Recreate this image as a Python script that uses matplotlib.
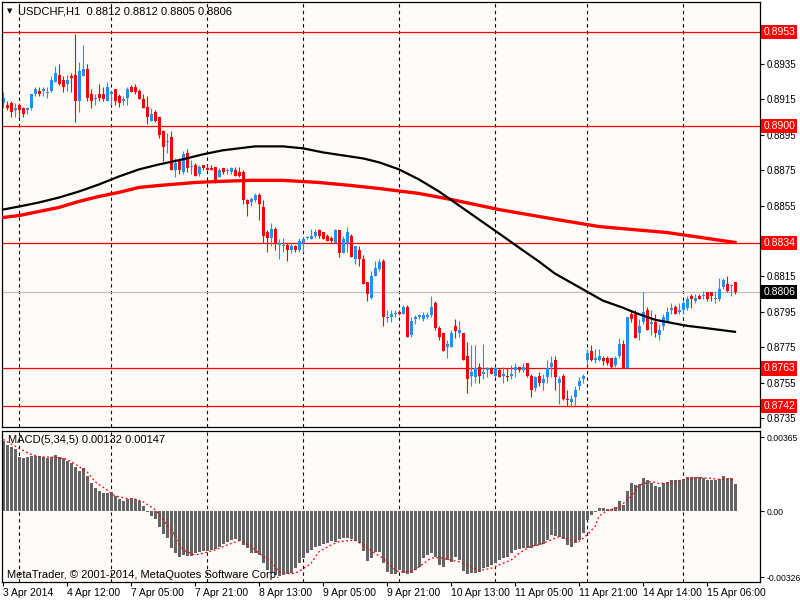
import matplotlib
matplotlib.use('Agg')
import matplotlib.pyplot as plt
import matplotlib.transforms as mtransforms
import numpy as np

plt.rcParams['font.family'] = ['Liberation Sans', 'DejaVu Sans']

# USDCHF H1 candles, bar 0 = 3 Apr 2014 20:00
opens = [0.8913, 0.8912, 0.8913, 0.8909, 0.8912, 0.8910, 0.8909, 0.8910, 0.8918, 0.8920,
         0.8920, 0.8919, 0.8920, 0.8925, 0.8929, 0.8926, 0.8924, 0.8928, 0.8929, 0.8914,
         0.8928, 0.8932, 0.8918, 0.8915, 0.8918, 0.8918, 0.8914, 0.8918, 0.8921, 0.8917,
         0.8914, 0.8916, 0.8922, 0.8922, 0.8920, 0.8915, 0.8911, 0.8903, 0.8908, 0.8905,
         0.8897, 0.8891, 0.8894, 0.8875, 0.8880, 0.8874, 0.8885, 0.8877, 0.8878, 0.8873,
         0.8878, 0.8876, 0.8876, 0.8877, 0.8871, 0.8876, 0.8875, 0.8874, 0.8875, 0.8874,
         0.8874, 0.8858, 0.8857, 0.8858, 0.8861, 0.8854, 0.8840, 0.8837, 0.8842, 0.8833,
         0.8832, 0.8833, 0.8830, 0.8832, 0.8830, 0.8834, 0.8837, 0.8836, 0.8838, 0.8841,
         0.8840, 0.8838, 0.8837, 0.8834, 0.8841, 0.8828, 0.8834, 0.8838, 0.8825, 0.8830,
         0.8825, 0.8812, 0.8803, 0.8815, 0.8819, 0.8824, 0.8792, 0.8792, 0.8794, 0.8795,
         0.8794, 0.8798, 0.8782, 0.8791, 0.8792, 0.8791, 0.8792, 0.8793, 0.8800, 0.8786,
         0.8783, 0.8775, 0.8775, 0.8787, 0.8783, 0.8783, 0.8770, 0.8759, 0.8758, 0.8764,
         0.8760, 0.8762, 0.8763, 0.8759, 0.8762, 0.8759, 0.8759, 0.8759, 0.8762, 0.8764,
         0.8762, 0.8766, 0.8759, 0.8752, 0.8759, 0.8755, 0.8758, 0.8764, 0.8768, 0.8755,
         0.8759, 0.8746, 0.8744, 0.8747, 0.8753, 0.8757, 0.8768, 0.8773, 0.8768, 0.8768,
         0.8769, 0.8769, 0.8769, 0.8765, 0.8770, 0.8777, 0.8763, 0.8794, 0.8794, 0.8783,
         0.8789, 0.8796, 0.8788, 0.8789, 0.8782, 0.8787, 0.8790, 0.8796, 0.8798, 0.8795,
         0.8796, 0.8797, 0.8804, 0.8801, 0.8804, 0.8804, 0.8806, 0.8806, 0.8802, 0.8802,
         0.8809, 0.8811, 0.8810, 0.8812]
highs = [0.8919, 0.8914, 0.8914, 0.8913, 0.8913, 0.8911, 0.8911, 0.8918, 0.8922, 0.8922,
         0.8922, 0.8922, 0.8928, 0.8934, 0.8935, 0.8928, 0.8929, 0.8930, 0.8952, 0.8936,
         0.8946, 0.8935, 0.8921, 0.8918, 0.8924, 0.8922, 0.8925, 0.8920, 0.8921, 0.8918,
         0.8917, 0.8922, 0.8923, 0.8924, 0.8921, 0.8918, 0.8917, 0.8910, 0.8909, 0.8905,
         0.8898, 0.8896, 0.8897, 0.8882, 0.8882, 0.8886, 0.8887, 0.8881, 0.8879, 0.8878,
         0.8878, 0.8878, 0.8878, 0.8877, 0.8876, 0.8876, 0.8876, 0.8877, 0.8877, 0.8877,
         0.8875, 0.8859, 0.8860, 0.8862, 0.8862, 0.8858, 0.8841, 0.8845, 0.8843, 0.8836,
         0.8837, 0.8834, 0.8834, 0.8833, 0.8837, 0.8837, 0.8838, 0.8842, 0.8842, 0.8842,
         0.8840, 0.8839, 0.8838, 0.8842, 0.8841, 0.8838, 0.8843, 0.8839, 0.8832, 0.8832,
         0.8827, 0.8812, 0.8818, 0.8824, 0.8825, 0.8825, 0.8796, 0.8796, 0.8796, 0.8796,
         0.8799, 0.8799, 0.8792, 0.8793, 0.8794, 0.8795, 0.8795, 0.8804, 0.8801, 0.8787,
         0.8783, 0.8779, 0.8785, 0.8791, 0.8790, 0.8783, 0.8778, 0.8776, 0.8776, 0.8766,
         0.8777, 0.8764, 0.8764, 0.8764, 0.8763, 0.8764, 0.8763, 0.8765, 0.8766, 0.8764,
         0.8766, 0.8766, 0.8760, 0.8759, 0.8761, 0.8760, 0.8768, 0.8770, 0.8770, 0.8759,
         0.8760, 0.8751, 0.8748, 0.8753, 0.8758, 0.8760, 0.8774, 0.8776, 0.8774, 0.8774,
         0.8770, 0.8770, 0.8769, 0.8770, 0.8780, 0.8779, 0.8792, 0.8796, 0.8796, 0.8791,
         0.8806, 0.8798, 0.8796, 0.8794, 0.8788, 0.8794, 0.8798, 0.8800, 0.8799, 0.8800,
         0.8801, 0.8804, 0.8805, 0.8805, 0.8805, 0.8807, 0.8806, 0.8806, 0.8807, 0.8814,
         0.8814, 0.8815, 0.8811, 0.8812]
lows = [0.8910, 0.8909, 0.8905, 0.8905, 0.8905, 0.8905, 0.8907, 0.8909, 0.8917, 0.8917,
        0.8917, 0.8916, 0.8919, 0.8925, 0.8923, 0.8919, 0.8920, 0.8919, 0.8902, 0.8908,
        0.8928, 0.8914, 0.8910, 0.8912, 0.8914, 0.8914, 0.8914, 0.8912, 0.8912, 0.8911,
        0.8912, 0.8912, 0.8919, 0.8918, 0.8915, 0.8910, 0.8901, 0.8903, 0.8902, 0.8893,
        0.8880, 0.8885, 0.8875, 0.8871, 0.8873, 0.8873, 0.8874, 0.8873, 0.8872, 0.8872,
        0.8875, 0.8875, 0.8875, 0.8868, 0.8871, 0.8873, 0.8873, 0.8873, 0.8872, 0.8871,
        0.8856, 0.8849, 0.8855, 0.8857, 0.8847, 0.8834, 0.8829, 0.8832, 0.8830, 0.8825,
        0.8829, 0.8824, 0.8828, 0.8829, 0.8829, 0.8829, 0.8836, 0.8836, 0.8837, 0.8837,
        0.8836, 0.8835, 0.8834, 0.8834, 0.8826, 0.8828, 0.8829, 0.8826, 0.8822, 0.8821,
        0.8811, 0.8801, 0.8802, 0.8815, 0.8818, 0.8787, 0.8789, 0.8789, 0.8792, 0.8793,
        0.8794, 0.8781, 0.8781, 0.8788, 0.8791, 0.8790, 0.8791, 0.8792, 0.8785, 0.8779,
        0.8773, 0.8769, 0.8775, 0.8780, 0.8781, 0.8768, 0.8749, 0.8753, 0.8755, 0.8755,
        0.8757, 0.8758, 0.8760, 0.8758, 0.8758, 0.8755, 0.8756, 0.8757, 0.8758, 0.8761,
        0.8761, 0.8758, 0.8747, 0.8750, 0.8753, 0.8751, 0.8755, 0.8758, 0.8751, 0.8743,
        0.8745, 0.8742, 0.8741, 0.8742, 0.8751, 0.8755, 0.8765, 0.8767, 0.8766, 0.8767,
        0.8765, 0.8765, 0.8763, 0.8764, 0.8769, 0.8763, 0.8763, 0.8789, 0.8780, 0.8779,
        0.8788, 0.8785, 0.8782, 0.8781, 0.8779, 0.8785, 0.8789, 0.8794, 0.8794, 0.8794,
        0.8794, 0.8796, 0.8797, 0.8800, 0.8802, 0.8802, 0.8801, 0.8801, 0.8800, 0.8801,
        0.8808, 0.8806, 0.8804, 0.8805]
closes = [0.8916, 0.8910, 0.8908, 0.8910, 0.8909, 0.8907, 0.8910, 0.8918, 0.8921, 0.8918,
          0.8921, 0.8919, 0.8926, 0.8930, 0.8924, 0.8922, 0.8926, 0.8927, 0.8914, 0.8931,
          0.8932, 0.8916, 0.8914, 0.8916, 0.8916, 0.8915, 0.8922, 0.8919, 0.8914, 0.8913,
          0.8915, 0.8921, 0.8919, 0.8919, 0.8915, 0.8910, 0.8905, 0.8907, 0.8903, 0.8895,
          0.8888, 0.8891, 0.8875, 0.8879, 0.8875, 0.8884, 0.8876, 0.8877, 0.8872, 0.8877,
          0.8876, 0.8875, 0.8875, 0.8869, 0.8875, 0.8874, 0.8875, 0.8876, 0.8872, 0.8872,
          0.8858, 0.8856, 0.8859, 0.8861, 0.8856, 0.8838, 0.8837, 0.8842, 0.8834, 0.8834,
          0.8833, 0.8830, 0.8832, 0.8830, 0.8835, 0.8836, 0.8837, 0.8838, 0.8840, 0.8838,
          0.8836, 0.8835, 0.8835, 0.8841, 0.8828, 0.8836, 0.8840, 0.8826, 0.8832, 0.8825,
          0.8811, 0.8805, 0.8815, 0.8820, 0.8823, 0.8792, 0.8792, 0.8794, 0.8794, 0.8794,
          0.8798, 0.8781, 0.8790, 0.8792, 0.8793, 0.8793, 0.8793, 0.8798, 0.8786, 0.8781,
          0.8773, 0.8777, 0.8783, 0.8784, 0.8785, 0.8768, 0.8757, 0.8761, 0.8763, 0.8759,
          0.8761, 0.8763, 0.8760, 0.8763, 0.8758, 0.8760, 0.8758, 0.8760, 0.8764, 0.8762,
          0.8764, 0.8759, 0.8751, 0.8758, 0.8755, 0.8757, 0.8763, 0.8766, 0.8758, 0.8757,
          0.8746, 0.8745, 0.8746, 0.8751, 0.8756, 0.8759, 0.8772, 0.8768, 0.8769, 0.8770,
          0.8767, 0.8766, 0.8764, 0.8769, 0.8777, 0.8763, 0.8792, 0.8791, 0.8780, 0.8787,
          0.8795, 0.8785, 0.8789, 0.8783, 0.8785, 0.8792, 0.8795, 0.8797, 0.8794, 0.8796,
          0.8800, 0.8802, 0.8802, 0.8803, 0.8802, 0.8804, 0.8802, 0.8804, 0.8803, 0.8808,
          0.8813, 0.8807, 0.8810, 0.8806]

# moving averages, read at sample bars
ma_black_bar = [0, 4, 9, 14, 19, 24, 29, 34, 39, 45, 50, 55, 63, 70, 75, 80, 85, 90, 94,
                99, 104, 109, 114, 119, 124, 129, 134, 138, 146, 150, 155, 158, 163, 167,
                171, 175, 183]
ma_black = [0.88528, 0.88545, 0.88568, 0.88596, 0.88630, 0.88670, 0.88715, 0.88755, 0.88783,
            0.88812, 0.88840, 0.88863, 0.88885, 0.88885, 0.88874, 0.88851, 0.88834, 0.88817,
            0.88795, 0.88755, 0.88698, 0.88630, 0.88551, 0.88472, 0.88393, 0.88313, 0.88234,
            0.88166, 0.88064, 0.88013, 0.87973, 0.87945, 0.87905, 0.87888, 0.87871, 0.87860,
            0.87837]
ma_red_bar = [0, 4, 9, 14, 19, 24, 29, 34, 39, 48, 54, 62, 70, 79, 87, 94, 104, 112, 124,
              137, 149, 166, 183]
ma_red = [0.88483, 0.88494, 0.88517, 0.88540, 0.88574, 0.88602, 0.88625, 0.88653, 0.88664,
          0.88681, 0.88687, 0.88693, 0.88693, 0.88681, 0.88664, 0.88647, 0.88619, 0.88585,
          0.88528, 0.88477, 0.88432, 0.88398, 0.88342]

# MACD(5,34,5) histogram, in units of 1e-5
macd_hist_e5 = [347, 326, 314, 304, 265, 260, 268, 271, 271, 271,
                265, 260, 268, 276, 268, 260, 248, 235, 219, 199,
                210, 174, 136, 112, 100, 90, 90, 95, 74, 58,
                51, 59, 62, 58, 51, 25, -7, -25, -41, -77,
                -113, -135, -184, -205, -225, -217, -222, -222, -209, -204,
                -197, -196, -192, -187, -176, -163, -151, -143, -140, -146,
                -168, -184, -209, -205, -217, -258, -291, -304, -316, -319,
                -316, -312, -307, -283, -258, -233, -209, -192, -179, -173,
                -163, -156, -146, -151, -140, -135, -135, -138, -146, -156,
                -196, -245, -233, -201, -201, -258, -299, -311, -311, -291,
                -304, -311, -304, -291, -275, -233, -217, -209, -225, -266,
                -275, -242, -250, -225, -242, -294, -311, -304, -304, -299,
                -283, -275, -266, -255, -242, -233, -225, -205, -192, -189,
                -184, -184, -184, -173, -168, -163, -143, -118, -123, -130,
                -140, -168, -176, -156, -143, -110, -44, -20, -3, 13,
                13, 8, 8, 18, 51, 30, 100, 140, 128, 133,
                161, 153, 140, 123, 120, 136, 145, 153, 153, 153,
                156, 166, 166, 166, 166, 161, 153, 153, 153, 156,
                173, 161, 161, 132]
signal_bar = [0, 4, 7, 9, 13, 16, 18, 21, 23, 26, 28, 31, 33, 35, 38, 40, 43, 45, 48, 50,
              53, 56, 59, 62, 64, 67, 69, 72, 74, 77, 79, 82, 84, 88, 90, 93, 95, 98, 99,
              102, 104, 107, 109, 112, 114, 117, 119, 122, 124, 127, 129, 132, 134, 137,
              139, 142, 144, 146, 148, 149, 151, 154, 157, 159, 162, 164, 167, 169, 172,
              174, 177, 179, 182, 183]
signal_e5 = [353, 309, 279, 268, 265, 255, 232, 194, 145, 104, 74, 62, 58, 46, 8, -44,
             -118, -192, -217, -209, -192, -168, -146, -173, -209, -250, -299, -311, -299,
             -258, -201, -168, -151, -143, -168, -209, -233, -290, -300, -299, -275, -233,
             -229, -242, -250, -275, -294, -283, -266, -242, -209, -173, -168, -143, -127,
             -143, -151, -118, -77, -25, 2, 18, 71, 128, 145, 136, 136, 150, 161, 166, 161,
             156, 156, 147]

levels = [0.8953, 0.8900, 0.8834, 0.8763, 0.8742]
last_price = 0.8806
day_bars = [4, 27, 51, 75, 99, 123, 146, 170]
time_ticks = [0, 16, 32, 48, 64, 80, 96, 112, 128, 144, 160, 176]
time_labels = ['3 Apr 2014', '4 Apr 12:00', '7 Apr 05:00', '7 Apr 21:00', '8 Apr 13:00',
               '9 Apr 05:00', '9 Apr 21:00', '10 Apr 13:00', '11 Apr 05:00', '11 Apr 21:00',
               '14 Apr 14:00', '15 Apr 06:00']
# 0.8835 sits fully behind the 0.8834 box, so it is left out
price_ticks = [0.8735, 0.8755, 0.8775, 0.8795, 0.8815, 0.8855, 0.8875, 0.8895,
               0.8915, 0.8935, 0.8955]
macd_ticks = [0.00365, 0.0, -0.00326]
macd_tick_labels = ['0.00365', '0.00', '-0.00326']

BLUE = '#1E90FF'
RED = '#FF0000'
BG = '#FFFBF9'
FS = 7

W, H = 800, 600
def rect(x0, y0, x1, y1):
    return [x0 / W, 1 - y1 / H, (x1 - x0) / W, (y1 - y0) / H]

fig = plt.figure(figsize=(8, 6), dpi=100)
fig.patch.set_facecolor('white')
ax = fig.add_axes(rect(2, 2, 760, 427), facecolor=BG)
axm = fig.add_axes(rect(2, 431, 760, 582), facecolor=BG)

o = np.array(opens); h = np.array(highs); l = np.array(lows); c = np.array(closes)
x = np.arange(len(o))
cols = np.where(c >= o, BLUE, RED)
min_body = 0.00006
body = np.abs(c - o)
bottom = np.where(body < min_body, np.minimum(o, c) - min_body / 2, np.minimum(o, c))
height = np.maximum(body, min_body)

for a in (ax, axm):
    for b in day_bars:
        a.axvline(b, color='black', lw=0.8, ls=(0, (3, 3)), zorder=1)

for lv in levels:
    ax.axhline(lv, color=RED, lw=0.9, zorder=1.5)
ax.axhline(last_price, color='#C0C0C0', lw=0.9, zorder=1.5)

ax.vlines(x, l, h, colors=cols, lw=0.8, zorder=2)
ax.bar(x, height, bottom=bottom, width=0.75, color=cols, lw=0, zorder=2.1)
ax.plot(ma_red_bar, ma_red, color=RED, lw=2.4, zorder=3)
ax.plot(ma_black_bar, ma_black, color='black', lw=1.6, zorder=3)

ax.set_xlim(-0.25, 189.25)
ax.set_ylim(0.87299, 0.89701)
ax.yaxis.tick_right()
ax.set_yticks(price_ticks)
ax.set_yticklabels([f'{t:.4f}' for t in price_ticks])
ax.tick_params(axis='y', labelsize=FS, length=3, pad=2, width=0.8)
ax.tick_params(axis='x', bottom=False, labelbottom=False)

trans = mtransforms.blended_transform_factory(ax.transAxes, ax.transData)
for lv in levels:
    ax.text(1.0045, lv, f'{lv:.4f}', transform=trans, ha='left', va='center',
            fontsize=FS + 0.5, color='white', clip_on=False, zorder=10,
            bbox=dict(boxstyle='square,pad=0.2', fc=RED, ec='none'))
ax.text(1.0045, last_price, f'{last_price:.4f}', transform=trans, ha='left', va='center',
        fontsize=FS + 0.5, color='white', clip_on=False, zorder=10,
        bbox=dict(boxstyle='square,pad=0.2', fc='black', ec='none'))

hist = np.array(macd_hist_e5) * 1e-5
axm.bar(x, hist, width=0.75, color='#646464', lw=0, zorder=2)
axm.plot(signal_bar, np.array(signal_e5) * 1e-5, color=RED, lw=0.9, ls=(0, (1.5, 2)), zorder=3)
axm.set_xlim(-0.25, 189.25)
axm.set_ylim(-0.003502, 0.003946)
axm.yaxis.tick_right()
axm.set_yticks(macd_ticks)
axm.set_yticklabels(macd_tick_labels)
axm.tick_params(axis='y', labelsize=6.2, length=3, pad=1.5, width=0.8)
axm.set_xticks(time_ticks)
axm.set_xticklabels(time_labels)
axm.tick_params(axis='x', labelsize=FS + 0.5, length=3, pad=1, width=0.8)
for lab in axm.get_xticklabels():
    lab.set_ha('left')

for a in (ax, axm):
    for s in a.spines.values():
        s.set_linewidth(0.9)

fig.text(7 / W, 1 - 11 / H, '\u25bc', fontsize=5, va='center', ha='left',
         family=['DejaVu Sans'])
fig.text(18 / W, 1 - 11 / H, 'USDCHF,H1  0.8812 0.8812 0.8805 0.8806', fontsize=FS + 1,
         va='center', ha='left', color='black')
fig.text(8 / W, 1 - 440 / H, 'MACD(5,34,5) 0.00132 0.00147', fontsize=FS + 1,
         va='center', ha='left', color='black')
fig.text(7 / W, 1 - 575 / H, 'MetaTrader, \u00a9 2001-2014, MetaQuotes Software Corp.',
         fontsize=FS + 1, va='center', ha='left', color='black')

fig.savefig('out.png', dpi=100, facecolor='white')
